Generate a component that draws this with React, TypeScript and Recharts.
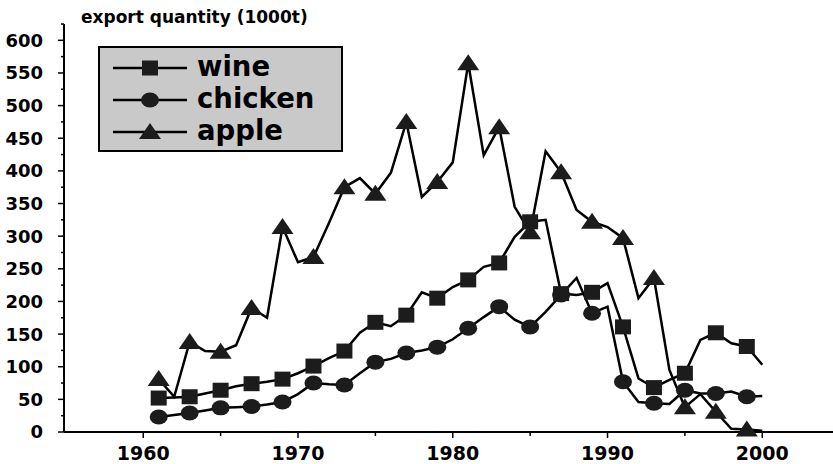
import { LineChart, Line, XAxis, YAxis, Legend } from 'recharts';

// export quantity (1000t), one value per year 1961-2000
const years = [
  1961, 1962, 1963, 1964, 1965, 1966, 1967, 1968, 1969, 1970,
  1971, 1972, 1973, 1974, 1975, 1976, 1977, 1978, 1979, 1980,
  1981, 1982, 1983, 1984, 1985, 1986, 1987, 1988, 1989, 1990,
  1991, 1992, 1993, 1994, 1995, 1996, 1997, 1998, 1999, 2000,
];

const wine = [
  52, 53, 54, 59, 64, 70, 74, 77, 81, 90,
  101, 113, 124, 152, 168, 162, 179, 214, 205, 222,
  233, 253, 259, 299, 322, 325, 212, 210, 214, 228,
  161, 82, 68, 80, 90, 141, 152, 136, 131, 103,
];

const chicken = [
  23, 26, 29, 33, 37, 38, 39, 42, 46, 58,
  75, 73, 72, 90, 107, 112, 121, 125, 130, 142,
  159, 176, 192, 172, 161, 184, 210, 236, 182, 192,
  77, 46, 44, 43, 64, 59, 59, 62, 54, 55,
];

const apple = [
  81, 54, 138, 124, 123, 133, 190, 175, 314, 260,
  268, 320, 375, 389, 365, 397, 475, 360, 383, 413,
  565, 424, 467, 345, 306, 430, 398, 340, 322, 314,
  297, 205, 236, 95, 38, 58, 31, 5, 4, 2,
];

const xTicks = [1960, 1965, 1970, 1975, 1980, 1985, 1990, 1995, 2000];
const yTicks = [
  0, 25, 50, 75, 100, 125, 150, 175, 200, 225, 250, 275, 300,
  325, 350, 375, 400, 425, 450, 475, 500, 525, 550, 575, 600, 625,
];

const data = years.map((year, i) => ({
  year,
  wine: wine[i],
  chicken: chicken[i],
  apple: apple[i],
}));

const FONT = '"DejaVu Sans", sans-serif';
const MARK_FILL = '#1c1c1c';

type Shape = 'square' | 'circle' | 'triangle';

function Marker({ cx, cy, shape }: { cx: number; cy: number; shape: Shape }) {
  if (shape === 'square') {
    return <rect x={cx - 8} y={cy - 7.5} width={16} height={15} fill={MARK_FILL} />;
  }
  if (shape === 'circle') {
    return <ellipse cx={cx} cy={cy} rx={9} ry={7.5} fill={MARK_FILL} />;
  }
  return (
    <polygon
      points={`${cx},${cy - 9} ${cx - 11},${cy + 7} ${cx + 11},${cy + 7}`}
      fill={MARK_FILL}
    />
  );
}

// markers only on odd years, like the original plot
const makeDot = (shape: Shape) => (props: any) => {
  const { cx, cy, payload, index } = props;
  if (payload.year % 2 === 0) return <g key={`d-${shape}-${index}`} />;
  return (
    <g key={`d-${shape}-${index}`}>
      <Marker cx={cx} cy={cy} shape={shape} />
    </g>
  );
};

const series: { key: string; shape: Shape }[] = [
  { key: 'wine', shape: 'square' },
  { key: 'chicken', shape: 'circle' },
  { key: 'apple', shape: 'triangle' },
];

function LegendBox() {
  const rows = [22, 54, 86];
  return (
    <svg width={245} height={106} style={{ display: 'block' }}>
      <rect x={1} y={1} width={243} height={104} fill="#c9c9c9" stroke="#000" strokeWidth={2} />
      {series.map((s, i) => (
        <g key={s.key}>
          <line x1={15} x2={89} y1={rows[i]} y2={rows[i]} stroke="#000" strokeWidth={2.5} />
          <Marker cx={52} cy={rows[i]} shape={s.shape} />
          <text
            x={99}
            y={rows[i] + 8}
            fontFamily={FONT}
            fontWeight="bold"
            fontSize={27.5}
            fill="#000"
          >
            {s.key}
          </text>
        </g>
      ))}
    </svg>
  );
}

function XTick({ x, y, payload }: any) {
  const major = payload.value % 10 === 0;
  return (
    <g>
      <line x1={x} x2={x} y1={y} y2={y + (major ? 6 : 4)} stroke="#000" strokeWidth={1.5} />
      {major && (
        <text x={x} y={y + 28} textAnchor="middle" fontFamily={FONT} fontWeight="bold" fontSize={19} fill="#000">
          {payload.value}
        </text>
      )}
    </g>
  );
}

function YTick({ x, y, payload }: any) {
  const major = payload.value % 50 === 0;
  return (
    <g>
      <line x1={x - (major ? 6 : 3)} x2={x} y1={y} y2={y} stroke="#000" strokeWidth={1.5} />
      {major && (
        <text x={x - 21} y={y} dy="0.36em" textAnchor="end" fontFamily={FONT} fontWeight="bold" fontSize={18} fill="#000">
          {payload.value}
        </text>
      )}
    </g>
  );
}

export default function App() {
  return (
    <div style={{ position: 'relative', width: 833, height: 464, background: '#fff' }}>
      <style>{`body { margin: 0; }`}</style>
      <div
        style={{
          position: 'absolute',
          left: 81,
          top: 7,
          fontFamily: FONT,
          fontWeight: 'bold',
          fontSize: 17,
          lineHeight: '20px',
          color: '#000',
          zIndex: 2,
        }}
      >
        export quantity (1000t)
      </div>
      <LineChart width={833} height={464} data={data} margin={{ top: 24, right: 0, bottom: 0, left: 0 }}>
        <XAxis
          dataKey="year"
          type="number"
          domain={[1954.88, 2004.57]}
          allowDataOverflow
          ticks={xTicks}
          interval={0}
          height={32}
          tickSize={0}
          tickMargin={0}
          tickLine={false}
          axisLine={{ stroke: '#000', strokeWidth: 2 }}
          tick={<XTick />}
        />
        <YAxis
          type="number"
          domain={[0, 625]}
          ticks={yTicks}
          interval={0}
          width={64}
          tickSize={0}
          tickMargin={0}
          tickLine={false}
          axisLine={{ stroke: '#000', strokeWidth: 2 }}
          tick={<YTick />}
        />
        <Legend
          layout="vertical"
          align="center"
          verticalAlign="middle"
          wrapperStyle={{ left: 98, top: 46, width: 245, height: 106 }}
          content={() => <LegendBox />}
        />
        <Line
          dataKey="apple"
          stroke="#000"
          strokeWidth={2.5}
          dot={makeDot('triangle')}
          activeDot={false}
          isAnimationActive={false}
        />
        <Line
          dataKey="chicken"
          stroke="#000"
          strokeWidth={2.5}
          dot={makeDot('circle')}
          activeDot={false}
          isAnimationActive={false}
        />
        <Line
          dataKey="wine"
          stroke="#000"
          strokeWidth={2.5}
          dot={makeDot('square')}
          activeDot={false}
          isAnimationActive={false}
        />
      </LineChart>
    </div>
  );
}
